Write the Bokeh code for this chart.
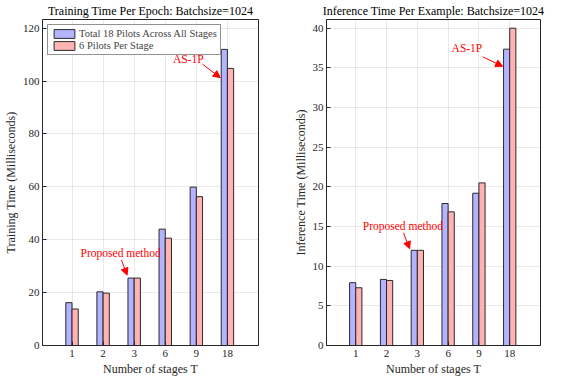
from bokeh.plotting import figure
from bokeh.layouts import row
from bokeh.models import ColumnDataSource, Arrow, NormalHead, Label, Range1d, FixedTicker
from bokeh.transform import dodge
from bokeh.embed import file_html
from bokeh.resources import INLINE

stages = ["1", "2", "3", "6", "9", "18"]
train_total18 = [16.2, 20.3, 25.5, 44.0, 59.9, 112.0]
train_6per = [13.8, 19.8, 25.5, 40.6, 56.3, 104.8]
infer_total18 = [7.92, 8.33, 12.0, 17.9, 19.2, 37.36]
infer_6per = [7.28, 8.2, 12.0, 16.85, 20.5, 40.0]

BLUE = "#b3b3ff"
RED = "#ffb3b3"
EDGE = "#2a2a2a"
FONT = "Liberation Serif"
AX = "#262626"
H = 378


def make_fig(title, ylabel, a, b, ymax, yticks, width, min_left, min_right, legend):
    pos = list(range(1, len(stages) + 1))
    src = ColumnDataSource(dict(pos=pos, a=a, b=b))
    p = figure(width=width, height=H, x_range=Range1d(0.05, 7.0),
               y_range=Range1d(0, ymax), title=title, output_backend="svg",
               toolbar_location=None, min_border_left=min_left, min_border_right=min_right,
               min_border_top=0, min_border_bottom=0)
    kw_a = dict(legend_label="Total 18 Pilots Across All Stages") if legend else {}
    kw_b = dict(legend_label="6 Pilots Per Stage") if legend else {}
    p.vbar(x=dodge("pos", -0.1), top="a", width=0.2, source=src,
           fill_color=BLUE, line_color=EDGE, line_width=1, **kw_a)
    p.vbar(x=dodge("pos", 0.1), top="b", width=0.2, source=src,
           fill_color=RED, line_color=EDGE, line_width=1, **kw_b)
    p.title.align = "center"
    p.title.text_font = FONT
    p.title.text_font_size = "12px"
    p.title.text_font_style = "normal"
    p.title.text_color = "black"
    p.title.standoff = 3
    p.xaxis.ticker = FixedTicker(ticks=pos)
    p.xaxis.major_label_overrides = {i: s for i, s in zip(pos, stages)}
    p.yaxis.ticker = FixedTicker(ticks=yticks)
    for ax in (p.xaxis[0], p.yaxis[0]):
        ax.major_label_text_font = FONT
        ax.major_label_text_font_size = "11px"
        ax.major_label_text_color = AX
        ax.axis_label_text_font = FONT
        ax.axis_label_text_font_size = "12px"
        ax.axis_label_text_font_style = "normal"
        ax.axis_label_text_color = AX
        ax.axis_line_color = AX
        ax.major_tick_line_color = AX
        ax.major_tick_in = 4
        ax.major_tick_out = 0
        ax.minor_tick_line_color = None
        ax.axis_label_standoff = 2
        ax.major_label_standoff = 4
    p.yaxis.major_label_standoff = 3
    p.xaxis.axis_label = "Number of stages T"
    p.yaxis.axis_label = ylabel
    p.xgrid.grid_line_color = AX
    p.xgrid.grid_line_alpha = 0.1
    p.ygrid.grid_line_color = AX
    p.ygrid.grid_line_alpha = 0.1
    p.outline_line_color = AX
    p.outline_line_alpha = 1
    if legend:
        lg = p.legend[0]
        lg.location = "top_left"
        lg.label_text_font = FONT
        lg.label_text_font_size = "10.5px"
        lg.label_height = 10
        lg.glyph_height = 11
        lg.glyph_width = 26
        lg.spacing = 1
        lg.padding = 3
        lg.margin = 5
        lg.border_line_color = AX
        lg.border_line_width = 1
        lg.label_standoff = 2
        lg.background_fill_alpha = 1
    return p


p1 = make_fig("Training Time Per Epoch: Batchsize=1024", "Training Time (Milliseconds)",
              train_total18, train_6per, 123.3, [0, 20, 40, 60, 80, 100, 120], 274, 20, 16, True)
p2 = make_fig("Inference Time Per Example: Batchsize=1024", "Inference Time (Milliseconds)",
              infer_total18, infer_6per, 41.1, [0, 5, 10, 15, 20, 25, 30, 35, 40], 272, 52, 6, False)


def annotate(p, text, tx, ty, x0, y0, x1, y1):
    p.add_layout(Label(x=tx, y=ty, text=text, text_color="red", text_font=FONT,
                       text_font_size="11.5px", text_align="center", text_baseline="middle"))
    p.add_layout(Arrow(x_start=x0, y_start=y0, x_end=x1, y_end=y1, line_color="red", line_width=1,
                       end=NormalHead(size=7, fill_color="red", line_color="red")))


annotate(p1, "Proposed method", 2.565, 35.1, 2.59, 32.4, 2.77, 26.6)
annotate(p1, "AS-1P", 4.74, 108.5, 5.20, 106.4, 5.77, 101.3)
annotate(p2, "Proposed method", 2.53, 15.08, 2.55, 14.2, 2.75, 12.2)
annotate(p2, "AS-1P", 4.61, 37.5, 5.12, 36.4, 5.77, 35.2)

layout = row(p1, p2)
open("out.html", "w").write(file_html(layout, INLINE))
